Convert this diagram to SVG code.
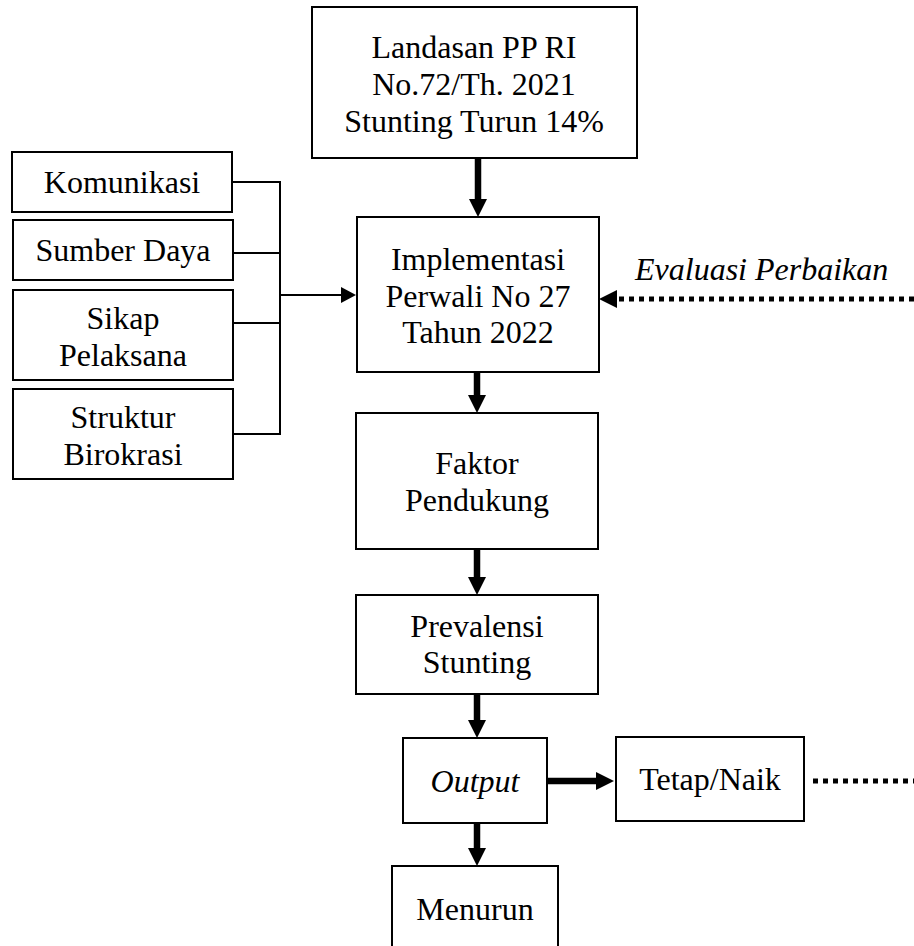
<svg xmlns="http://www.w3.org/2000/svg" width="914" height="946" viewBox="0 0 914 946">
<style>
.box{fill:#fff;stroke:#000;stroke-width:2}
.t{font-family:"Liberation Serif","Times New Roman",serif;font-size:32px;fill:#000;text-anchor:middle}
.i{font-style:italic}
.thin{stroke:#000;stroke-width:2;fill:none}
.thick{stroke:#000;stroke-width:6.5;fill:none}
.dot{stroke:#000;stroke-width:5;stroke-dasharray:5 5;fill:none}
</style>
<defs>
<marker id="ah" markerUnits="userSpaceOnUse" markerWidth="19" markerHeight="18" refX="1" refY="9" orient="auto" overflow="visible">
<path d="M0,0 L18,9 L0,18 Z" fill="#000"/>
</marker>
<marker id="ahs" markerUnits="userSpaceOnUse" markerWidth="16" markerHeight="16" refX="1" refY="8" orient="auto" overflow="visible">
<path d="M0,0 L15,8 L0,16 Z" fill="#000"/>
</marker>
</defs>
<rect width="914" height="946" fill="#fff"/>
<g id="connectors">
<line class="thin" x1="232" y1="182" x2="280" y2="182"/>
<line class="thin" x1="233" y1="253" x2="280" y2="253"/>
<line class="thin" x1="233" y1="323" x2="280" y2="323"/>
<line class="thin" x1="233" y1="434" x2="280" y2="434"/>
<line class="thin" x1="280" y1="181" x2="280" y2="435"/>
<line class="thin" x1="280" y1="295" x2="342" y2="295" marker-end="url(#ahs)"/>
<line class="thick" x1="478" y1="158" x2="478" y2="200" marker-end="url(#ah)"/>
<line class="thick" x1="477" y1="372" x2="477" y2="396" marker-end="url(#ah)"/>
<line class="thick" x1="477" y1="549" x2="477" y2="578" marker-end="url(#ah)"/>
<line class="thick" x1="477" y1="694" x2="477" y2="721" marker-end="url(#ah)"/>
<line class="thick" x1="477" y1="823" x2="477" y2="849" marker-end="url(#ah)"/>
<line class="thick" x1="547" y1="781" x2="597" y2="781" marker-end="url(#ah)"/>
<line class="dot" x1="914" y1="299" x2="616" y2="299" marker-end="url(#ah)"/>
<line class="dot" x1="813" y1="781" x2="914" y2="781"/>
</g>
<g id="landasan">
<rect class="box" x="312" y="7" width="325" height="151"/>
<text class="t" x="474" y="58">Landasan PP RI</text>
<text class="t" x="474" y="95">No.72/Th. 2021</text>
<text class="t" x="474" y="132">Stunting Turun 14%</text>
</g>
<g id="implementasi">
<rect class="box" x="357" y="217" width="242" height="155"/>
<text class="t" x="478" y="270">Implementasi</text>
<text class="t" x="478" y="307">Perwali No 27</text>
<text class="t" x="478" y="343">Tahun 2022</text>
</g>
<g id="evaluasi">
<text class="t i" x="635" y="280" style="text-anchor:start">Evaluasi Perbaikan</text>
</g>
<g id="komunikasi">
<rect class="box" x="12" y="152" width="220" height="60"/>
<text class="t" x="122" y="193">Komunikasi</text>
</g>
<g id="sumberdaya">
<rect class="box" x="13" y="220" width="220" height="60"/>
<text class="t" x="123" y="261">Sumber Daya</text>
</g>
<g id="sikap">
<rect class="box" x="13" y="290" width="220" height="90"/>
<text class="t" x="123" y="329">Sikap</text>
<text class="t" x="123" y="366">Pelaksana</text>
</g>
<g id="struktur">
<rect class="box" x="13" y="389" width="220" height="90"/>
<text class="t" x="123" y="428">Struktur</text>
<text class="t" x="123" y="465">Birokrasi</text>
</g>
<g id="faktor">
<rect class="box" x="356" y="413" width="242" height="136"/>
<text class="t" x="477" y="474">Faktor</text>
<text class="t" x="477" y="511">Pendukung</text>
</g>
<g id="prevalensi">
<rect class="box" x="356" y="595" width="242" height="99"/>
<text class="t" x="477" y="637">Prevalensi</text>
<text class="t" x="477" y="673">Stunting</text>
</g>
<g id="output">
<rect class="box" x="403" y="738" width="144" height="85"/>
<text class="t i" x="475" y="792">Output</text>
</g>
<g id="tetapnaik">
<rect class="box" x="616" y="737" width="188" height="84"/>
<text class="t" x="710" y="790">Tetap/Naik</text>
</g>
<g id="menurun">
<rect class="box" x="392" y="866" width="166" height="100"/>
<text class="t" x="475" y="920">Menurun</text>
</g>
</svg>
